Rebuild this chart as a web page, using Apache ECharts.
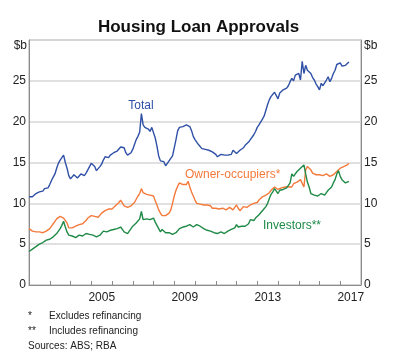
<!DOCTYPE html>
<html>
<head>
<meta charset="utf-8">
<script src="https://cdn.jsdelivr.net/npm/echarts@6/dist/echarts.min.js"></script>
<style>html,body{margin:0;padding:0;background:#fff}#c{width:397px;height:358px}</style>
</head>
<body>
<div id="c"></div>
<script>
// Monthly data, Jan 2002 .. Jun 2017 ($b)
const startYear = 2002;
const xLabels = ['2005', '2009', '2013', '2017'];
const yTicks = [0, 5, 10, 15, 20, 25, 30];
const total = [
  10.8,10.7,10.8,11.0,11.2,11.4,11.4,11.6,11.5,11.8,12.0,11.9,
  12.3,12.8,13.2,13.6,14.3,14.9,15.3,15.5,15.9,15.0,14.3,13.4,
  13.0,13.2,13.5,13.6,13.1,13.3,13.6,13.5,13.4,13.7,14.1,14.5,
  14.9,15.1,14.5,14.0,14.2,14.5,14.8,15.3,15.7,15.5,15.6,15.9,
  15.8,16.2,16.0,16.4,16.6,16.9,17.1,16.8,16.2,15.9,15.8,16.2,
  16.6,17.2,17.8,18.2,18.7,21.0,19.6,19.3,19.2,19.1,18.8,19.3,
  19.2,18.0,17.0,15.8,15.2,15.0,15.1,14.6,14.9,15.1,15.5,15.8,
  16.8,17.8,18.9,19.3,19.2,19.4,19.2,19.6,19.8,19.4,18.9,18.2,
  17.8,17.5,17.2,17.0,16.7,16.5,16.6,16.4,16.5,16.6,16.3,16.2,
  16.0,15.7,15.9,16.0,16.1,15.9,16.0,15.9,15.7,16.0,16.5,16.7,
  16.1,16.3,16.5,16.4,16.8,17.1,17.3,17.5,17.8,18.0,18.4,18.8,
  19.3,19.6,19.8,20.3,20.7,21.4,22.1,22.7,23.1,23.3,23.6,23.4,
  22.8,23.5,23.7,23.9,23.8,24.1,24.4,24.9,25.3,25.0,25.7,25.5,
  25.9,25.1,27.4,25.9,26.9,26.3,26.1,25.9,25.4,25.1,24.6,24.3,
  23.9,24.7,24.4,24.5,25.1,25.5,24.9,25.3,25.9,26.3,27.0,27.1,
  27.2,26.8,27.0,26.9,27.1,27.3
];
const owner = [
  6.9,6.8,6.6,6.5,6.5,6.4,6.5,6.4,6.4,6.5,6.6,6.8,
  6.9,7.2,7.5,7.8,8.1,8.2,8.4,8.3,8.2,8.0,7.6,7.0,
  6.9,7.0,7.1,7.2,7.3,7.4,7.5,7.5,7.6,7.9,8.2,8.3,
  8.5,8.6,8.4,8.2,8.3,8.5,8.8,9.0,9.1,9.2,9.3,9.4,
  9.3,9.5,9.7,9.8,10.1,10.4,10.2,9.7,9.5,9.5,9.6,9.7,
  9.9,10.1,10.5,10.9,11.2,11.8,11.3,11.2,11.1,11.2,11.0,11.1,
  10.9,10.3,9.8,9.2,8.8,8.5,8.4,8.5,8.5,8.8,9.2,10.0,
  10.9,11.6,12.1,12.5,12.4,12.3,12.2,12.3,12.7,12.0,11.4,10.9,
  10.4,10.0,9.8,9.9,9.8,9.8,9.7,9.8,9.6,9.7,9.4,9.2,
  9.4,9.3,9.3,9.4,9.4,9.4,9.2,9.3,9.5,9.4,9.2,9.2,
  9.8,9.4,9.1,9.3,9.6,9.6,9.5,9.6,9.8,10.0,10.0,10.0,
  10.1,10.4,10.6,10.8,10.9,11.0,11.2,11.3,11.6,11.8,12.0,11.8,
  11.7,11.8,11.9,11.8,12.0,11.9,12.0,12.1,12.0,12.4,12.5,12.6,
  12.7,12.9,13.1,12.0,14.1,14.5,14.3,14.1,13.7,13.9,13.5,13.3,
  13.5,13.7,13.4,13.3,13.6,13.5,13.3,13.4,13.5,13.7,13.9,14.1,
  14.3,14.4,14.5,14.5,14.7,14.9
];
const investors = [
  4.1,4.2,4.4,4.5,4.7,4.9,5.0,5.2,5.2,5.4,5.5,5.3,
  5.6,5.8,5.9,6.1,6.3,6.6,6.9,7.3,7.8,7.1,6.5,6.1,
  6.0,6.0,5.9,5.8,5.8,6.1,6.0,6.0,6.2,6.3,6.1,6.2,
  6.2,6.1,6.0,5.9,6.0,6.1,6.3,6.6,6.8,6.5,6.6,6.7,
  6.7,6.8,6.8,6.9,7.0,7.1,6.8,6.5,6.4,6.3,6.6,6.9,
  7.2,7.4,7.6,7.8,8.1,9.0,8.0,8.1,8.1,8.0,8.0,8.1,
  8.2,7.7,7.3,6.9,6.5,6.8,6.6,6.4,6.5,6.4,6.3,6.2,
  6.3,6.4,6.6,6.9,7.0,7.1,7.1,7.2,7.2,7.4,7.2,7.1,
  7.3,7.4,7.2,7.2,7.0,6.9,6.8,6.7,6.7,6.6,6.5,6.4,
  6.4,6.3,6.4,6.5,6.3,6.3,6.5,6.6,6.7,6.8,6.9,7.0,
  7.4,7.1,7.2,7.2,7.1,7.2,7.4,7.5,8.0,7.8,7.9,8.2,
  8.4,8.6,8.8,9.1,9.3,9.6,10.0,10.6,11.1,11.4,11.8,11.5,
  11.2,11.6,11.6,11.7,11.8,11.9,12.0,12.5,13.6,13.3,13.5,13.9,
  14.1,14.3,14.5,14.7,13.6,12.6,12.0,11.2,11.0,11.0,10.9,10.9,
  10.8,11.2,11.0,11.0,11.3,11.6,11.8,12.0,12.5,12.9,13.6,14.0,
  13.3,12.9,12.8,12.5,12.5,12.7
];

const FONT = '"Liberation Sans", Arial, sans-serif';
const toPairs = arr => arr.map((v, i) => [startYear + i / 12, v]);

const chart = echarts.init(document.getElementById('c'), null, {renderer: 'canvas'});
const yAxisBase = {
  type: 'value', min: yTicks[0], max: yTicks[yTicks.length - 1], interval: 5,
  axisLine: {show: true, lineStyle: {color: '#8c8c8c', width: 1}},
  axisTick: {show: false},
  axisLabel: {
    color: '#222', fontSize: 12, fontFamily: FONT, margin: 3,
    formatter: v => (v === 30 ? '' : String(v))
  }
};
chart.setOption({
  animation: false,
  grid: {left: 29, right: 36, top: 40, bottom: 73, show: true, borderColor: '#a6a6a6', borderWidth: 1},
  xAxis: {
    type: 'value', min: 2002, max: 2018, interval: 1,
    axisLine: {show: true, lineStyle: {color: '#8c8c8c', width: 1}},
    axisTick: {show: true, inside: true, length: 4, lineStyle: {color: '#8c8c8c'}},
    splitLine: {show: false},
    axisLabel: {
      color: '#222', fontSize: 12, fontFamily: FONT, margin: 7,
      padding: [0, 0, 0, 21],
      showMaxLabel: false,
      formatter: v => (xLabels.indexOf(String(v)) >= 0 ? String(v) : '')
    }
  },
  yAxis: [
    Object.assign({}, yAxisBase, {position: 'left', splitLine: {show: true, lineStyle: {color: '#d6d6d6', width: 1.5}}}),
    Object.assign({}, yAxisBase, {position: 'right', splitLine: {show: false}})
  ],
  series: [
    {name: 'Total', type: 'line', data: toPairs(total), showSymbol: false, lineStyle: {color: '#2f50a6', width: 1.4}, itemStyle: {color: '#2f50a6'}},
    {name: 'Owner-occupiers*', type: 'line', data: toPairs(owner), showSymbol: false, lineStyle: {color: '#f47a3c', width: 1.4}, itemStyle: {color: '#f47a3c'}},
    {name: 'Investors**', type: 'line', data: toPairs(investors), showSymbol: false, lineStyle: {color: '#1f8a47', width: 1.4}, itemStyle: {color: '#1f8a47'}}
  ],
  graphic: [
    {type: 'text', left: 'center', top: 19, style: {text: 'Housing Loan Approvals', font: 'bold 17px ' + FONT, fill: '#111'}},
    {type: 'text', x: 27, y: 40, style: {text: '$b', font: '12px ' + FONT, fill: '#222', align: 'right', verticalAlign: 'top'}},
    {type: 'text', x: 364, y: 40, style: {text: '$b', font: '12px ' + FONT, fill: '#222', align: 'left', verticalAlign: 'top'}},
    {type: 'text', x: 141, y: 106, style: {text: 'Total', font: '12px ' + FONT, fill: '#2f50a6', align: 'center', verticalAlign: 'middle'}},
    {type: 'text', x: 185, y: 175, style: {text: 'Owner-occupiers*', font: '12px ' + FONT, fill: '#f47a3c', align: 'left', verticalAlign: 'middle'}},
    {type: 'text', x: 263, y: 226, style: {text: 'Investors**', font: '12px ' + FONT, fill: '#1f8a47', align: 'left', verticalAlign: 'middle'}},
    {type: 'text', x: 28, y: 316, style: {text: '*', font: '10px ' + FONT, fill: '#222', verticalAlign: 'middle'}},
    {type: 'text', x: 49, y: 316, style: {text: 'Excludes refinancing', font: '10px ' + FONT, fill: '#222', verticalAlign: 'middle'}},
    {type: 'text', x: 28, y: 331, style: {text: '**', font: '10px ' + FONT, fill: '#222', verticalAlign: 'middle'}},
    {type: 'text', x: 49, y: 331, style: {text: 'Includes refinancing', font: '10px ' + FONT, fill: '#222', verticalAlign: 'middle'}},
    {type: 'text', x: 28, y: 346, style: {text: 'Sources: ABS; RBA', font: '10px ' + FONT, fill: '#222', verticalAlign: 'middle'}}
  ]
});
</script>
</body>
</html>
